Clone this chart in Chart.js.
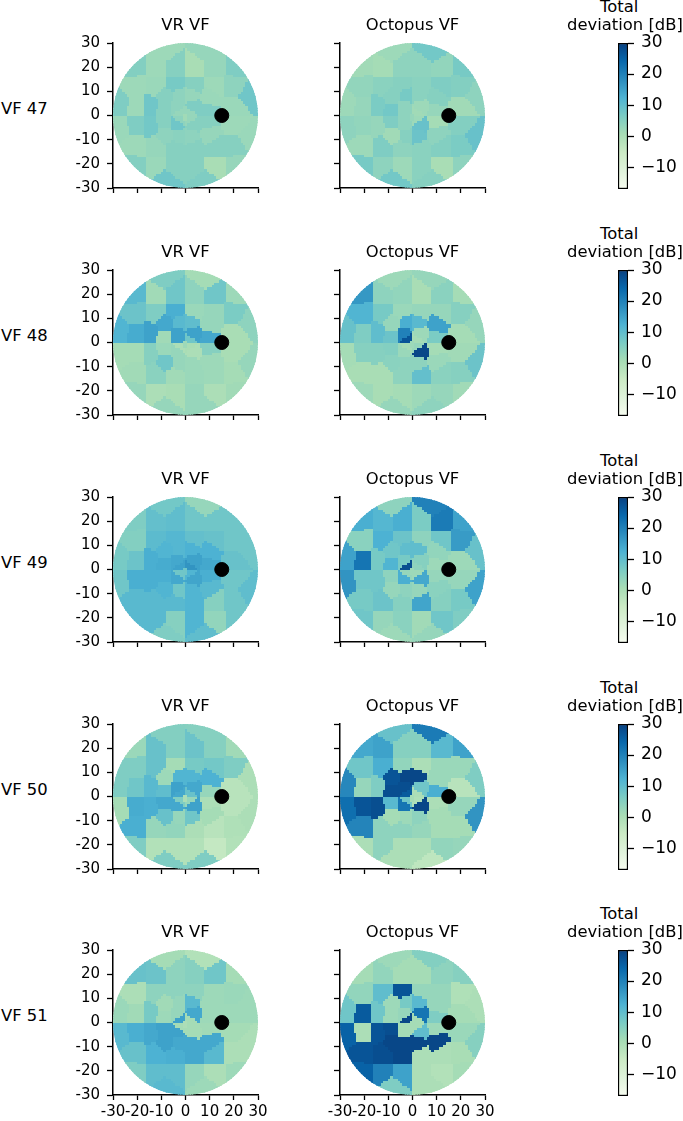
<!DOCTYPE html>
<html>
<head>
<meta charset="utf-8">
<script src="https://cdn.jsdelivr.net/npm/chart.js@4/dist/chart.umd.js"></script>
<style>
    html, body { margin: 0; padding: 0; background: #fff; }
    body { position: relative; width: 683px; height: 1121px; overflow: hidden; font-family: "DejaVu Sans", sans-serif; color: #000; }
    canvas { position: absolute; display: block; }
    .label { position: absolute; white-space: nowrap; font-size: 16.4px; line-height: 20px; }
</style>
</head>
<body>
<script>
const rowLabels = ['VF 47', 'VF 48', 'VF 49', 'VF 50', 'VF 51'];
const columnTitles = ['VR VF', 'Octopus VF'];
const axisTicks = [-30, -20, -10, 0, 10, 20, 30];
const colorbarTicks = [-10, 0, 10, 20, 30];
const colorbarRange = [-17, 30];
const blindSpotX = [15];
const blindSpotY = [0];

// test locations, top row to bottom row
const fieldX = [
    -8.5, 8.5,
    -20.5, -12.5, -4.3, 4.3, 12.5, 20.5,
    -20, -12.5, -4.3, 4.3, 12.5, 20,
    -8, -2.5, 2.5, 10, 27,
    -27, -20, -14, -8.5, -3.8, 3.8, 9.5, 20.5,
    -2, 2,
    0,
    -2, 2,
    -27, -20, -14, -8.5, -3.8, 3.8, 9.5, 20.5,
    -8, -2.5, 2.5, 10, 27,
    -20, -12.5, -4.3, 4.3, 12.5, 20,
    -20.5, -12.5, -4.3, 4.3, 12.5, 20.5,
    -8.5, 8.5
];
const fieldY = [
    26.5, 26.5,
    20.5, 20.5, 20.5, 20.5, 20.5, 20.5,
    12.5, 12.5, 12.5, 12.5, 12.5, 12.5,
    8, 8.7, 8.7, 8, 8.5,
    4.5, 4.2, 4.2, 2.4, 3.3, 3.3, 1.2, 3,
    1, 1,
    0,
    -1, -1,
    -4.5, -4.2, -4.2, -2.4, -3.3, -3.3, -1.2, -3,
    -8, -8.7, -8.7, -8, -8.5,
    -12.5, -12.5, -12.5, -12.5, -12.5, -12.5,
    -20.5, -20.5, -20.5, -20.5, -20.5, -20.5,
    -26.5, -26.5
];

const vr47 = [
    2, 3,
    5.5, 2, 5, 0.5, 3, 6,
    2, 2.5, 7, 5, 2, 4,
    5, 4, 3, 2.5, 8,
    6, 2, 8, 5, 4, 6, 6, 2.5,
    3, 3,
    1.5,
    4, 3,
    2.5, 6, 7.5, 5, 8, 5, 5, 2,
    4, 4.5, 4, 3, 2.5,
    2, 3, 5, 5, 5, 5,
    5.5, 2.5, 5, 5, 0.5, 3,
    8, 6
];
const octopus47 = [
    2, 7.5,
    1.5, 1, 4, 4, 3.5, 7,
    3.5, 4.5, 5, 4.5, 6, 5.5,
    5, 7, 4.5, 5, 4,
    2, 3, 6.5, 7.5, 4, 2, 3, 1.5,
    4, 1.5,
    3,
    4, 2,
    4, 3.5, 3, 6, 4, 9, 1, 5.5,
    1.5, 5, 8.5, 4, 9,
    2, 6, 4, 4.5, 5.5, 6.5,
    7, 4, 2, 4.5, 0.5, 4,
    7.5, 5
];
const vr48 = [
    6, 1,
    11, 1.5, 8, 4, 8, 2,
    8.5, 6, 13, 2.5, 3, 6.5,
    14, 11, 10, 3, 4,
    12, 13.5, 15, 1.5, 15, 15, 14, 0.5,
    15, 8,
    2,
    0, 0.5,
    1, 1, 5, 2.5, 3, 0, 5, 0.5,
    8, 3, 2.5, 2, 3,
    1.5, 4.5, 1.5, 2.5, 2, 1,
    3, 0, 0.5, 3, 0, 1.5,
    3, 3
];
const octopus48 = [
    2, 3,
    16.5, 4, 3.5, 0.5, 4.5, 1,
    12, 7, 2.5, 3, 3, 5,
    3, 13, 11, 15, 3,
    9, 6, 10, 8.5, 20, 2, 6.5, 1,
    27, 1,
    2,
    1, 3,
    1, 5, 5, 5.5, 2.5, 29, 1, 1.5,
    4.5, 4, 4, 2.5, 8.5,
    0.5, 0.5, 4, 9.5, 4.5, 5,
    2, 0.5, 1, 2, 3, 1.5,
    3, 4
];
const vr49 = [
    7.5, 3,
    6, 9.5, 10, 8, 8, 8,
    5.5, 10.5, 11.5, 9.5, 9, 8,
    12, 11.5, 12.5, 12.5, 8,
    7, 8.5, 13, 13.5, 14, 15, 14, 9,
    15, 17,
    8,
    8, 12,
    8, 13, 13, 13, 14, 14.5, 13, 8,
    12, 8, 12, 11, 10,
    11, 11, 11, 12, 5, 8,
    11, 11, 5, 12, 3.5, 8,
    6, 10
];
const octopus49 = [
    4, 20,
    13, 11.5, 13, 6.5, 21, 15,
    4.5, 12.5, 8.5, 4, 8, 16,
    8, 10, 10, 3.5, 9,
    15, 22, 7, 12, 7, 5, 2, 2,
    28, 4,
    2,
    3, 2,
    17, 8, 8, 4, 13, 14, 3, 3,
    3, 4, 3, 4.5, 15,
    7, 8.5, 5, 14.5, 5, 7,
    8, 3, 4.5, 1.5, 8, 6,
    2, 3
];
const vr50 = [
    5.5, 5,
    2.5, 9, 5.5, 8.5, 5, 1.5,
    6, 9, 1, 7, 7.5, 6,
    2, 12, 12, 12.5, 0,
    6, 8, 11, 10, 15, 14, 3, -2,
    14, 9,
    0,
    6, 3,
    1, 13.5, 13, 14, 14, 15, 0, -2,
    9, 3, 8, 1, 0,
    13, 3, 3.5, 0, -2, -0.5,
    6, -1, -1, -1, -4, -1,
    6, 6
];
const octopus50 = [
    9, 21,
    14, 15, 5, 5, 11, 15,
    8, 13, 3.5, 0, 2.5, 2.5,
    27, 29, 29, 2.5, 6,
    19, 3, 6, 28, 28, 8, 13, -2,
    26, 0,
    1,
    8, -0.5,
    23, 27, 28, 11, 22, 29, 0, 3,
    1, 2, 4, 1, 17,
    19.5, 4, 4, 3, 1, 1,
    0, 4, 0, 0, 3.5, 3,
    0, -3
];
const vr51 = [
    1, -1,
    9, 8.5, 4, 5, 8, 1,
    0, 4, 4, 4, 2, 2.5,
    1.5, 3, 11, 2, 2,
    2.5, 1.5, 7, 2, 3, 14, 2, 2,
    15, 1,
    0,
    1, 1,
    11, 13, 14, 15, 15, 1, 1.5, 1,
    15, 14, 14, 14, 0,
    9, 12.5, 13, 14, 11, 0,
    6, 10, 10, 3, 0, 2,
    11, 2
];
const octopus51 = [
    2, 5.5,
    1, 3.5, 1, 1, 4, 5,
    3.5, 10, 27, 3, 3, -0.5,
    2, 7, 11, 3, 0,
    8, 26, 8, 2, 3, 22, 6, 1,
    29, 1,
    1,
    1, 1,
    25, 0, 27, 28, 1, 10, 2, 2.5,
    29, 29, 29, 29, 5,
    27, 28, 29, 0, 0, 0.5,
    25, 20, 15, 0, -1, 1,
    6, 0
];

const vrFields = [vr47, vr48, vr49, vr50, vr51];
const octopusFields = [octopus47, octopus48, octopus49, octopus50, octopus51];

const rowTops = [43, 270, 497, 724, 950];
const plotLefts = [113, 340];
const plotSize = 145;
const lastRow = rowLabels.length - 1;

const gnBu = [[247, 252, 240], [224, 243, 219], [204, 235, 197], [168, 221, 181], [123, 204, 196], [78, 179, 211], [43, 140, 190], [8, 104, 172], [8, 64, 129]];

function deviationColor(value) {
    const t = Math.min(Math.max((value - colorbarRange[0]) / (colorbarRange[1] - colorbarRange[0]), 0), 1) * (gnBu.length - 1);
    const i = Math.min(Math.floor(t), gnBu.length - 2);
    const c = gnBu[i].map((v, k) => Math.round(v + (gnBu[i + 1][k] - v) * (t - i)));
    return `rgb(${c[0]}, ${c[1]}, ${c[2]})`;
}

function nearestLocation(x, y) {
    let best = 0;
    let bestDist = Infinity;
    for (let i = 0; i < fieldX.length; i++) {
        const d = (fieldX[i] - x) ** 2 + (fieldY[i] - y) ** 2;
        if (d < bestDist) {
            bestDist = d;
            best = i;
        }
    }
    return best;
}

// tick labels may overhang the plot, the layout must not shrink it for them
function fixScaleSize(scale, size) {
    if (scale.isHorizontal()) {
        scale.height = size;
    } else {
        scale.width = size;
    }
    scale.paddingTop = 0;
    scale.paddingBottom = 0;
    scale.paddingLeft = 0;
    scale.paddingRight = 0;
}

// fills the 1 degree cells of the field with the value of the nearest test location
const fieldPlugin = {
    id: 'fieldCells',
    beforeDatasetsDraw(chart, args, options) {
        const { ctx, scales: { x, y } } = chart;
        const colors = options.values.map(deviationColor);
        ctx.save();
        ctx.beginPath();
        ctx.arc(x.getPixelForValue(0), y.getPixelForValue(0), x.getPixelForValue(30) - x.getPixelForValue(0), 0, Math.PI * 2);
        ctx.clip();
        for (let i = -30; i < 30; i++) {
            for (let j = -30; j < 30; j++) {
                const left = Math.floor(x.getPixelForValue(i));
                const right = Math.ceil(x.getPixelForValue(i + 1));
                const top = Math.floor(y.getPixelForValue(j + 1));
                const bottom = Math.ceil(y.getPixelForValue(j));
                ctx.fillStyle = colors[nearestLocation(i + 0.5, j + 0.5)];
                ctx.fillRect(left, top, right - left, bottom - top);
            }
        }
        ctx.restore();
    }
};

function addCanvas(left, top, width, height) {
    const canvas = document.createElement('canvas');
    canvas.width = width;
    canvas.height = height;
    canvas.style.left = left + 'px';
    canvas.style.top = top + 'px';
    canvas.style.width = width + 'px';
    canvas.style.height = height + 'px';
    document.body.appendChild(canvas);
    return canvas.getContext('2d');
}

function addLabel(text, left, top) {
    const div = document.createElement('div');
    div.className = 'label';
    div.textContent = text;
    div.style.left = left + 'px';
    div.style.top = top + 'px';
    document.body.appendChild(div);
}

function drawField(row, column, values) {
    const axisWidth = 60;
    const axisHeight = row === lastRow ? 26 : 8;
    const titleSpace = 30;
    const ctx = addCanvas(plotLefts[column] - axisWidth, rowTops[row] - titleSpace, axisWidth + plotSize + 12, titleSpace + plotSize + axisHeight);
    new Chart(ctx, {
        type: 'scatter',
        data: {
            datasets: [{
                data: blindSpotX.map((x, i) => ({ x: x, y: blindSpotY[i] })),
                backgroundColor: '#000',
                borderColor: '#000',
                pointRadius: 7
            }]
        },
        plugins: [fieldPlugin],
        options: {
            responsive: false,
            animation: false,
            layout: { autoPadding: false, padding: { right: 12 } },
            scales: {
                x: {
                    min: -30,
                    max: 30,
                    afterBuildTicks: scale => { scale.ticks = axisTicks.map(v => ({ value: v })); },
                    afterFit: scale => fixScaleSize(scale, axisHeight),
                    border: { color: '#000', width: 1.5 },
                    grid: { drawOnChartArea: false, tickLength: 5, tickWidth: 1.3, tickColor: '#000' },
                    ticks: { display: row === lastRow, autoSkip: false, maxRotation: 0, padding: 3, color: '#000', font: { family: 'DejaVu Sans', size: 15 } }
                },
                y: {
                    min: -30,
                    max: 30,
                    afterBuildTicks: scale => { scale.ticks = axisTicks.map(v => ({ value: v })); },
                    afterFit: scale => fixScaleSize(scale, axisWidth),
                    border: { color: '#000', width: 1.5 },
                    grid: { drawOnChartArea: false, tickLength: 6, tickWidth: 1.3, tickColor: '#000' },
                    ticks: { display: column === 0, autoSkip: false, padding: 7, color: '#000', font: { family: 'DejaVu Sans', size: 15 } }
                }
            },
            plugins: {
                legend: { display: false },
                tooltip: { enabled: false },
                fieldCells: { values: values },
                title: {
                    display: true,
                    fullSize: false,
                    text: columnTitles[column],
                    color: '#000',
                    font: { family: 'DejaVu Sans', size: 16.4, weight: 'normal', lineHeight: '20px' },
                    padding: { top: 3, bottom: 7 }
                }
            }
        }
    });
}

function drawColorbar(row) {
    const ctx = addCanvas(610, rowTops[row] - 12, 73, 12 + 146 + 14);
    new Chart(ctx, {
        type: 'bar',
        data: {
            labels: [''],
            datasets: [{
                data: [colorbarRange],
                barPercentage: 1,
                categoryPercentage: 1,
                borderWidth: 1.5,
                borderColor: '#000',
                borderSkipped: false,
                backgroundColor: context => {
                    const area = context.chart.chartArea;
                    if (!area) return '#fff';
                    const gradient = context.chart.ctx.createLinearGradient(0, area.bottom, 0, area.top);
                    gnBu.forEach((c, i) => gradient.addColorStop(i / (gnBu.length - 1), `rgb(${c[0]}, ${c[1]}, ${c[2]})`));
                    return gradient;
                }
            }]
        },
        options: {
            responsive: false,
            animation: false,
            layout: { autoPadding: false, padding: { left: 8, top: 12, bottom: 14 } },
            scales: {
                x: { display: false },
                y: {
                    position: 'right',
                    min: colorbarRange[0],
                    max: colorbarRange[1],
                    afterBuildTicks: scale => { scale.ticks = colorbarTicks.map(v => ({ value: v })); },
                    afterFit: scale => fixScaleSize(scale, 55),
                    border: { display: false },
                    grid: { drawOnChartArea: false, tickLength: 6, tickWidth: 1.3, tickColor: '#000' },
                    ticks: {
                        autoSkip: false,
                        padding: 7,
                        color: '#000',
                        font: { family: 'DejaVu Sans', size: 17 },
                        callback: value => String(value).replace('-', '\u2212')
                    }
                }
            },
            plugins: { legend: { display: false }, tooltip: { enabled: false } }
        }
    });
    addLabel('Total', 600, rowTops[row] - 46);
    addLabel('deviation [dB]', 567, rowTops[row] - 28);
}

rowLabels.forEach((label, row) => {
    addLabel(label, 1, rowTops[row] + 56);
    drawField(row, 0, vrFields[row]);
    drawField(row, 1, octopusFields[row]);
    drawColorbar(row);
});
</script>
</body>
</html>
